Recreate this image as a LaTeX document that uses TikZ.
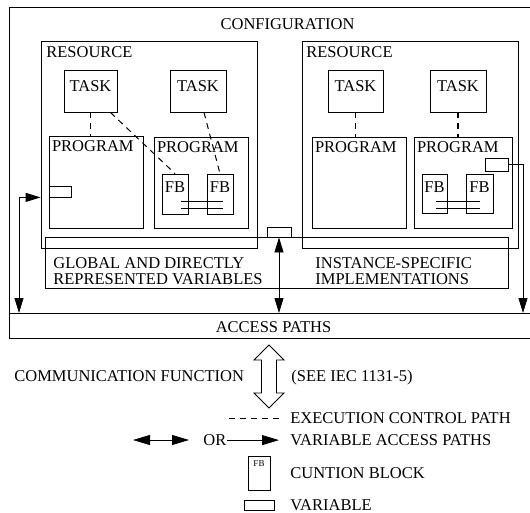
\documentclass[tikz,border=0pt]{standalone}
\usepackage{fontspec}
\setmainfont{Liberation Serif}
\usetikzlibrary{arrows.meta,fit}
\begin{document}
\begin{tikzpicture}[x=1pt,y=-1pt,line width=0.8pt,
  box/.style={draw,inner sep=0pt},
  txt/.style={font=\fontsize{16.5}{17}\selectfont,inner sep=0pt},
  small/.style={font=\fontsize{9}{10}\selectfont,inner sep=0pt},
  ctl/.style={dash pattern=on 6pt off 5pt,line width=1.5pt},
  ctlthin/.style={dash pattern=on 6pt off 5pt,line width=1pt},
  tip/.style={-{Triangle[length=15pt,width=9pt]}},
  tips/.style={{Triangle[length=15pt,width=9pt]}-{Triangle[length=15pt,width=9pt]}},
  bigtip/.style={-{Triangle[length=17pt,width=10pt]}},
  bigtips/.style={{Triangle[length=17pt,width=10pt]}-{Triangle[length=17pt,width=10pt]}},
]
\useasboundingbox (0,0) rectangle (530,513);

% configuration frame (open on the right) and access path bus
\draw[line width=1pt] (530,7.3) -- (9.3,7.3) -- (9.3,338) -- (530,338);
\coordinate (busL) at (9.3,313);
\coordinate (busR) at (530,313);
\draw (busL) -- (busR);
\node[txt,anchor=base] (cfg) at (287.5,29.5) {CONFIGURATION};
\node[txt,anchor=base] (acc) at (273.5,332) {ACCESS PATHS};

% resources
\node[box,fit={(41,41)(257,248)}] (res1) {};
\node[box,fit={(302,41)(518,248)}] (res2) {};
\node[txt,anchor=base west] (res1l) at (46,57.5) {RESOURCE};
\node[txt,anchor=base west] (res2l) at (306,57.5) {RESOURCE};

% global / instance-specific variables strip
\node[box,fit={(45,237)(508,288)}] (glob) {};
\node[txt,anchor=base west] (globl1) at (53,268) {GLOBAL AND DIRECTLY};
\node[txt,anchor=base west] (globl2) at (53,284) {REPRESENTED VARIABLES};
\node[txt,anchor=base west] (inst1) at (315,268) {INSTANCE-SPECIFIC};
\node[txt,anchor=base west] (inst2) at (315,284) {IMPLEMENTATIONS};

% tasks
\node[box,fit={(64,70)(117,112)}] (task1) {};
\node[box,fit={(170,70)(226,112)}] (task2) {};
\node[box,fit={(328,70)(383,112)}] (task3) {};
\node[box,fit={(430,70)(486,112)}] (task4) {};
\foreach \t in {task1,task2,task3,task4}
  \node[txt,anchor=base] at ([yshift=-22pt]\t.north) {TASK};

% programs
\node[box,fit={(49,136)(143,228)}] (prog1) {};
\node[box,fit={(154,137)(248,228)}] (prog2) {};
\node[box,fit={(312,137)(406,228)}] (prog3) {};
\node[box,fit={(414,137)(512,228)}] (prog4) {};
\foreach \p in {prog1,prog2,prog3,prog4}
  \node[txt,anchor=base west] at ([shift={(3pt,-16pt)}]\p.north west) {PROGRAM};

% function blocks
\node[box,fit={(162,174)(188,214)}] (fb1) {};
\node[box,fit={(207,174)(233,214)}] (fb2) {};
\node[box,fit={(422,174)(447,213)}] (fb3) {};
\node[box,fit={(466,174)(493,213)}] (fb4) {};
\foreach \f in {fb1,fb2,fb3,fb4}
  \node[txt,anchor=base] at ([yshift=-19pt]\f.north) {FB};

% links between function blocks
\draw ([xshift=-7pt]fb1.east |- 0,201) -- ([xshift=-10pt]fb2.east |- 0,201);
\draw ([xshift=-7pt]fb1.east |- 0,208) -- ([xshift=-10pt]fb2.east |- 0,208);
\draw ([xshift=-11pt]fb3.east |- 0,201) -- ([xshift=-13pt]fb4.east |- 0,201);
\draw ([xshift=-11pt]fb3.east |- 0,208) -- ([xshift=-13pt]fb4.east |- 0,208);

% variables
\node[box,fill=white,fit={(49,186)(71,197)}] (var1) {};
\node[box,fill=white,fit={(485,158)(508,171)}] (var4) {};
\node[box,fill=white,fit={(267,227)(291,237)}] (varm) {};

% execution control paths
\draw[ctl] (task1.south) -- (task1.south |- prog1.north);
\draw[ctlthin] ([xshift=-7pt]task1.south east) -- (fb1.north);
\draw[ctlthin] ([xshift=6pt]task2.south) -- (fb2.north);
\draw[ctl] (task3.south) -- (task3.south |- prog3.north);
\draw[ctl] (task4.south) -- (task4.south |- prog4.north);

% variable access paths
\coordinate (accL) at (19,313);
\coordinate (accR) at (523,313);
\draw[tips] (res1.west |- var1.south) -| (accL);
\draw[tip] (var4.east) -| (accR);
\draw[tips] (varm.south) -- (varm.south |- busL);

% communication function
\draw[fill=white] (269,345) -- (284,360) -- (276.5,360) -- (276.5,393) -- (284,393)
  -- (269,408) -- (254,393) -- (261.5,393) -- (261.5,360) -- (254,360) -- cycle;
\node[txt,anchor=base west] (comm) at (14,381) {COMMUNICATION FUNCTION};
\node[txt,anchor=base west] (iec) at (291,381) {(SEE IEC 1131-5)};

% legend
\coordinate (dashA) at (229,418.5);
\coordinate (dashB) at (282,418.5);
\draw[ctl,line width=1.2pt] (dashA) -- (dashB);
\node[txt,anchor=base west] (lgexec) at (290,423.5) {EXECUTION CONTROL PATH};

\coordinate (dblA) at (133,440);
\coordinate (dblB) at (189,440);
\draw[bigtips] (dblA) -- (dblB);
\node[txt,anchor=base west] (lgor) at (203,445.5) {OR};
\coordinate (orB) at (279,440);
\draw[bigtip] (lgor.east) -- (lgor.east -| orB);
\node[txt,anchor=base west] (lgvar) at (290,445.5) {VARIABLE ACCESS PATHS};

\node[box,fit={(248,456)(270,490)}] (lgfb) {};
\node[small,anchor=base] at ([yshift=-11pt]lgfb.north) {FB};
\node[txt,anchor=base west] (lgfbt) at (290,478.5) {CUNTION BLOCK};

\node[box,fit={(244,500)(274,510)}] (lgv) {};
\node[txt,anchor=base west] (lgvt) at (290,510.5) {VARIABLE};
\end{tikzpicture}
\end{document}
